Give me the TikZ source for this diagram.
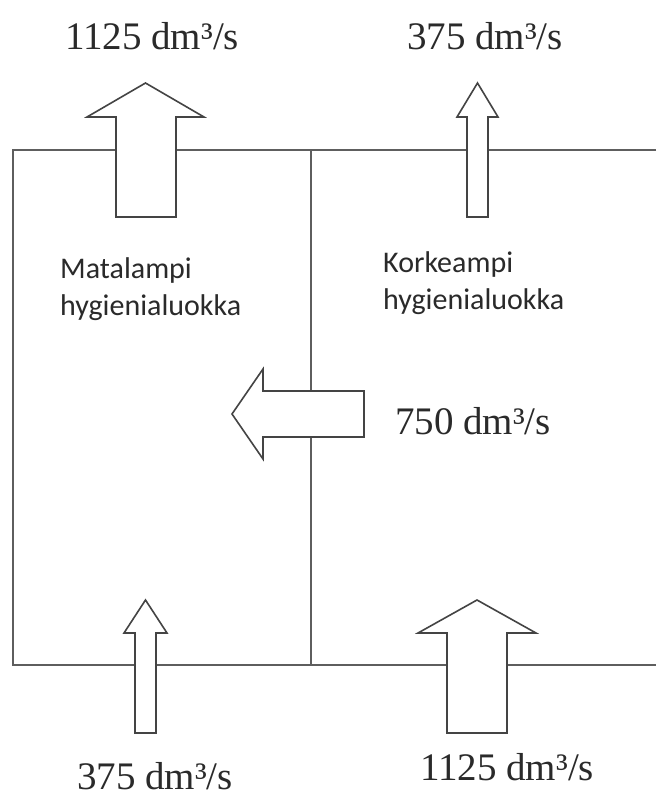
\documentclass[tikz,border=0pt]{standalone}
\usepackage{fontspec}
\setmainfont{Liberation Serif}
\newfontfamily\labelfont{Carlito}
\definecolor{wallgray}{HTML}{5E5E5E}
\definecolor{arrowgray}{HTML}{444444}
\definecolor{textdark}{HTML}{2A2A2A}
\begin{document}
\begin{tikzpicture}[x=1pt,y=-1pt,
  wall/.style={draw=wallgray,line width=2pt},
  blockarrow/.style={draw=arrowgray,fill=white,line width=1.6pt,line join=miter},
  flow/.style={font=\fontsize{39}{44}\selectfont,text=textdark,anchor=base west,inner sep=0pt},
  zone/.style={font=\labelfont\fontsize{30}{36}\selectfont,text=textdark,anchor=base west,inner sep=0pt}]
\useasboundingbox (0,0) rectangle (656,797);
\fill[white] (0,0) rectangle (656,797);

% walls
\coordinate (topL) at (13,150);
\coordinate (topR) at (656,150);
\coordinate (botL) at (13,665);
\coordinate (botR) at (656,665);
\coordinate (divT) at (311,150);
\coordinate (divB) at (311,665);
\draw[wall] (topR) -- (topL) -- (botL) -- (botR);
\draw[wall] (divT) -- (divB);

% block arrows
\draw[blockarrow] (116,217) -- (116,117) -- (87,117) -- (145.5,83) -- (204,117) -- (176,117) -- (176,217) -- cycle;
\draw[blockarrow] (467,217) -- (467,117) -- (457,117) -- (477.5,83) -- (498,117) -- (488,117) -- (488,217) -- cycle;
\draw[blockarrow] (135,733) -- (135,633) -- (124,633) -- (145.5,600) -- (167,633) -- (156,633) -- (156,733) -- cycle;
\draw[blockarrow] (447,733) -- (447,633) -- (418,633) -- (477,600) -- (536,633) -- (507,633) -- (507,733) -- cycle;
\draw[blockarrow] (364,391) -- (263,391) -- (263,369) -- (232,414) -- (263,459) -- (263,437) -- (364,437) -- cycle;

% flow labels
\node[flow] (outLow) at (65,50) {1125 dm³/s};
\node[flow] (outHigh) at (407,50) {375 dm³/s};
\node[flow] (transfer) at (395,434) {750 dm³/s};
\node[flow] (inLow) at (77,789) {375 dm³/s};
\node[flow] (inHigh) at (420,780) {1125 dm³/s};

% zone labels
\node[zone] (lowA) at (60,278) {Matalampi};
\node[zone] (lowB) at (60,315) {hygienialuokka};
\node[zone] (highA) at (383,272) {Korkeampi};
\node[zone] (highB) at (383,309) {hygienialuokka};
\end{tikzpicture}
\end{document}
